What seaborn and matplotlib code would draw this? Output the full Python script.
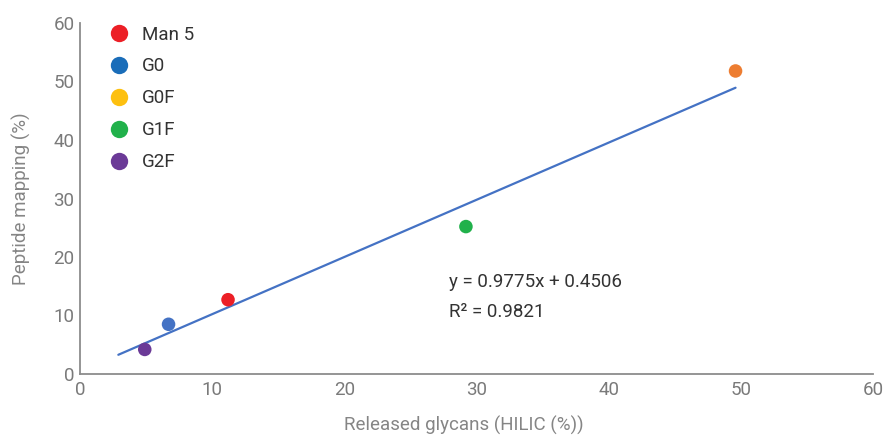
import matplotlib
matplotlib.use("Agg")
import matplotlib.pyplot as plt
from matplotlib.lines import Line2D
import numpy as np
import pandas as pd
import seaborn as sns

# Glycan abundances: released glycans (HILIC) vs. peptide mapping
glycans = ["Man 5", "G0", "G0F", "G1F", "G2F"]
hilic_pct = [11.2, 6.7, 49.6, 29.2, 4.9]
peptide_pct = [12.7, 8.5, 51.8, 25.2, 4.2]

# Point colours and legend swatch colours
point_colors = ["#EC1F26", "#4472C4", "#ED7D31", "#21B14B", "#6B3A97"]
legend_colors = ["#EC1F26", "#1A6DB9", "#FDC010", "#21B14B", "#6B3A97"]

# Linear trendline
slope = 0.9775
intercept = 0.4506
r_squared = 0.9821
fit_x_range = [2.9, 49.6]

x_ticks = [0, 10, 20, 30, 40, 50, 60]
y_ticks = [0, 10, 20, 30, 40, 50, 60]

sns.set_theme(style="white")
plt.rcParams["font.family"] = ["Roboto", "DejaVu Sans"]

FS = 13.5

df = pd.DataFrame({"glycan": glycans, "hilic": hilic_pct, "peptide": peptide_pct})

fig = plt.figure(figsize=(8.86, 4.38), dpi=100)
ax = fig.add_axes([80 / 886, 1 - 374 / 438, (873 - 80) / 886, (374 - 23) / 438])

fx = np.array(fit_x_range)
ax.plot(fx, slope * fx + intercept, color="#4472C4", lw=1.6, zorder=2)

sns.scatterplot(data=df, x="hilic", y="peptide", hue="glycan",
                palette=dict(zip(glycans, point_colors)), s=95,
                edgecolor="none", legend=False, ax=ax, zorder=3)

ax.set_xlim(0, 60)
ax.set_ylim(0, 60)
ax.set_xticks(x_ticks)
ax.set_yticks(y_ticks)
tick_color = "#7a7a7a"
ax.tick_params(axis="both", length=0, labelsize=FS, colors=tick_color, pad=4)
ax.tick_params(axis="x", pad=5)

for side in ["top", "right"]:
    ax.spines[side].set_visible(False)
for side in ["left", "bottom"]:
    ax.spines[side].set_color("#8c8c8c")
    ax.spines[side].set_linewidth(1.3)

ax.set_xlabel("Released glycans (HILIC (%))", fontsize=FS, color="#858585", va="center")
ax.xaxis.set_label_coords(0.484, -0.147)
ax.set_ylabel("Peptide mapping (%)", fontsize=FS, color="#858585", labelpad=16)

ax.text(27.95, 15.8, f"y = {slope}x + {intercept}", fontsize=FS, color="#333333",
        va="center", ha="left")
ax.text(27.95, 10.6, f"R² = {r_squared}", fontsize=FS, color="#333333",
        va="center", ha="left")

handles = [Line2D([0], [0], marker="o", linestyle="none", markersize=12.5,
                  markerfacecolor=c, markeredgecolor="none") for c in legend_colors]
leg = ax.legend(handles, glycans, loc="upper left", bbox_to_anchor=(0.028, 1.014),
                frameon=False, fontsize=FS, labelspacing=0.74, handlelength=1.0,
                handletextpad=0.73, borderaxespad=0)
for t in leg.get_texts():
    t.set_color("#333333")

fig.savefig("out.png", dpi=100)
